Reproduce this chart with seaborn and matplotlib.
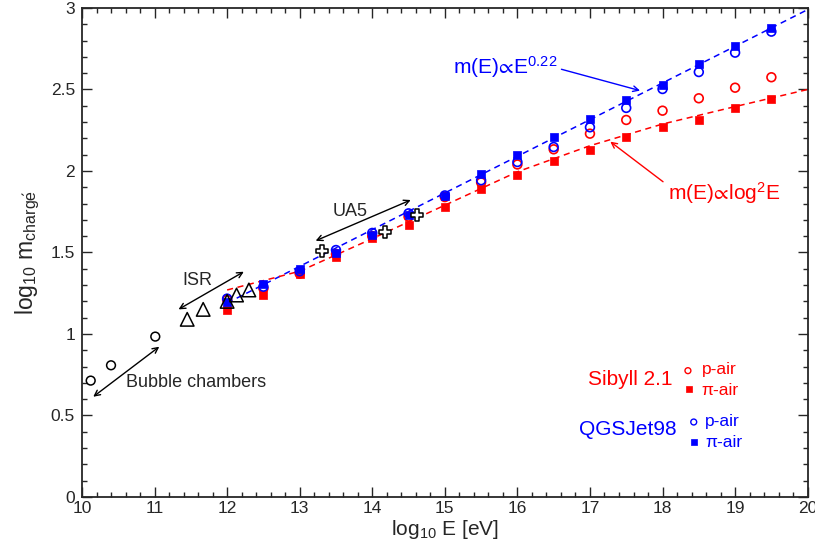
import pandas as pd
import matplotlib
matplotlib.use("Agg")
import matplotlib.pyplot as plt
import seaborn as sns

# log10 E values of the model points
energies = [12, 12.5, 13, 13.5, 14, 14.5, 15, 15.5, 16, 16.5, 17, 17.5, 18, 18.5, 19, 19.5]

# Sibyll 2.1
sib_p = [1.21, 1.28, 1.37, 1.49, 1.60, 1.72, 1.84, 1.93, 2.04, 2.133, 2.229, 2.313, 2.37, 2.446, 2.511, 2.575]
sib_pi = [1.147, 1.237, 1.366, 1.47, 1.589, 1.669, 1.781, 1.888, 1.973, 2.061, 2.129, 2.209, 2.268, 2.315, 2.388, 2.444]

# QGSJet98
qgs_p = [1.217, 1.29, 1.385, 1.515, 1.62, 1.74, 1.85, 1.943, 2.055, 2.147, 2.268, 2.387, 2.503, 2.607, 2.726, 2.855]
qgs_pi = [1.198, 1.307, 1.40, 1.495, 1.605, 1.732, 1.849, 1.982, 2.098, 2.209, 2.319, 2.436, 2.530, 2.656, 2.767, 2.879]

# experimental data
bubble_x = [10.12, 10.40, 11.01]
bubble_y = [0.714, 0.808, 0.984]
isr_x = [11.45, 11.67, 12.0, 12.13, 12.30]
isr_y = [1.09, 1.151, 1.20, 1.239, 1.27]
ua5_x = [13.31, 14.18, 14.61]
ua5_y = [1.511, 1.628, 1.73]

# fitted curves
pow_fit_x = [12, 20]
pow_fit_y = [1.19, 2.99]
log_fit_x = [12, 13, 14, 15, 16, 17, 18, 19, 20]
log_fit_y = [1.27, 1.385, 1.585, 1.79, 1.995, 2.155, 2.288, 2.395, 2.50]

RED = "#ff0000"
BLUE = "#0000ff"

sns.set_style("ticks")
plt.rcParams["font.family"] = ["Liberation Sans", "DejaVu Sans"]
plt.rcParams["mathtext.default"] = "regular"
plt.rcParams["mathtext.fontset"] = "custom"
plt.rcParams["mathtext.rm"] = "Liberation Sans"
plt.rcParams["mathtext.it"] = "Liberation Sans"

fig = plt.figure(figsize=(8.15, 5.54), dpi=100)
ax = fig.add_axes([0.1006, 0.1029, 0.8904, 0.8827])

# fit lines
sns.lineplot(x=pow_fit_x, y=pow_fit_y, ax=ax, color=BLUE, linestyle=(0, (4, 3)), linewidth=1.1)
sns.lineplot(x=log_fit_x, y=log_fit_y, ax=ax, color=RED, linestyle=(0, (4, 3)), linewidth=1.1)

# model points
sns.scatterplot(x=energies, y=sib_pi, ax=ax, marker="s", s=34, color=RED, edgecolor=RED, linewidth=0.5, zorder=3)
sns.scatterplot(x=energies, y=sib_p, ax=ax, marker="o", s=40, color=RED, facecolor="none", edgecolor=RED, linewidth=1.2, zorder=3)
sns.scatterplot(x=energies, y=qgs_pi, ax=ax, marker="s", s=34, color=BLUE, edgecolor=BLUE, linewidth=0.5, zorder=4)
sns.scatterplot(x=energies, y=qgs_p, ax=ax, marker="o", s=40, color=BLUE, facecolor="none", edgecolor=BLUE, linewidth=1.2, zorder=4)

# experimental points
sns.scatterplot(x=bubble_x, y=bubble_y, ax=ax, marker="o", s=40, color="black", facecolor="none", edgecolor="black", linewidth=1.1, zorder=5)
sns.scatterplot(x=isr_x, y=isr_y, ax=ax, marker="^", s=95, color="black", facecolor="none", edgecolor="black", linewidth=1.1, zorder=5)
sns.scatterplot(x=ua5_x, y=ua5_y, ax=ax, marker="P", s=70, color="white", facecolor="white", edgecolor="black", linewidth=1.1, zorder=5)

# experiment labels with double arrows
dbl = dict(arrowstyle="<->", color="black", lw=1.0, shrinkA=0, shrinkB=0)
ax.annotate("", xy=(10.155, 0.615), xytext=(11.065, 0.922), arrowprops=dbl)
ax.annotate("", xy=(11.33, 1.151), xytext=(12.23, 1.382), arrowprops=dbl)
ax.annotate("", xy=(13.22, 1.572), xytext=(14.53, 1.822), arrowprops=dbl)
ax.text(10.61, 0.70, "Bubble chambers", fontsize=13, va="center", ha="left")
ax.text(11.39, 1.33, "ISR", fontsize=13, va="center", ha="left")
ax.text(13.46, 1.75, "UA5", fontsize=13, va="center", ha="left")

# fit labels
ax.annotate("", xy=(17.69, 2.493), xytext=(16.607, 2.624),
            arrowprops=dict(arrowstyle="->", color=BLUE, lw=1.0, shrinkA=0, shrinkB=0))
ax.text(15.11, 2.64, r"m(E)$\!\propto\!$E$^{0.22}$", fontsize=15, color=BLUE, va="center", ha="left")
ax.annotate("", xy=(17.28, 2.18), xytext=(18.007, 1.934),
            arrowprops=dict(arrowstyle="->", color=RED, lw=1.0, shrinkA=0, shrinkB=0))
ax.text(18.07, 1.867, r"m(E)$\!\propto\!$log$^{2}$E", fontsize=15, color=RED, va="center", ha="left")

# model legend
ax.text(18.14, 0.718, "Sibyll 2.1", fontsize=15, color=RED, va="center", ha="right")
sns.scatterplot(x=[18.35], y=[0.775], ax=ax, marker="o", s=18, color=RED, facecolor="none", edgecolor=RED, linewidth=1.0)
sns.scatterplot(x=[18.37], y=[0.66], ax=ax, marker="s", s=16, color=RED, edgecolor=RED, linewidth=0.5)
ax.text(18.54, 0.78, "p-air", fontsize=12.5, color=RED, va="center", ha="left")
ax.text(18.54, 0.655, "\u03c0-air", fontsize=12.5, color=RED, va="center", ha="left")

ax.text(18.2, 0.415, "QGSJet98", fontsize=15, color=BLUE, va="center", ha="right")
sns.scatterplot(x=[18.43], y=[0.46], ax=ax, marker="o", s=18, color=BLUE, facecolor="none", edgecolor=BLUE, linewidth=1.0)
sns.scatterplot(x=[18.43], y=[0.34], ax=ax, marker="s", s=16, color=BLUE, edgecolor=BLUE, linewidth=0.5)
ax.text(18.59, 0.465, "p-air", fontsize=12.5, color=BLUE, va="center", ha="left")
ax.text(18.59, 0.335, "\u03c0-air", fontsize=12.5, color=BLUE, va="center", ha="left")

# axes
ax.set_xlim(10, 20)
ax.set_ylim(0, 3)
ax.set_xticks(range(10, 21))
ax.set_yticks([0, 0.5, 1, 1.5, 2, 2.5, 3])
ax.set_yticklabels(["0", "0.5", "1", "1.5", "2", "2.5", "3"])
ax.xaxis.set_minor_locator(matplotlib.ticker.MultipleLocator(0.2))
ax.yaxis.set_minor_locator(matplotlib.ticker.MultipleLocator(0.1))
ax.tick_params(which="both", direction="in", top=True, right=True, labelsize=12.5, width=1.0)
ax.tick_params(axis="x", pad=3)
ax.tick_params(axis="y", pad=5)
ax.tick_params(which="major", length=7)
ax.tick_params(which="minor", length=3.5)
for sp in ax.spines.values():
    sp.set_linewidth(1.3)
ax.set_xlabel(r"log$_{10}$ E [eV]", fontsize=15, labelpad=1)
ax.set_ylabel(r"log$_{10}$ m$_{charg\acute{e}}$", fontsize=16.5, labelpad=6)

fig.savefig("out.png", dpi=100)
